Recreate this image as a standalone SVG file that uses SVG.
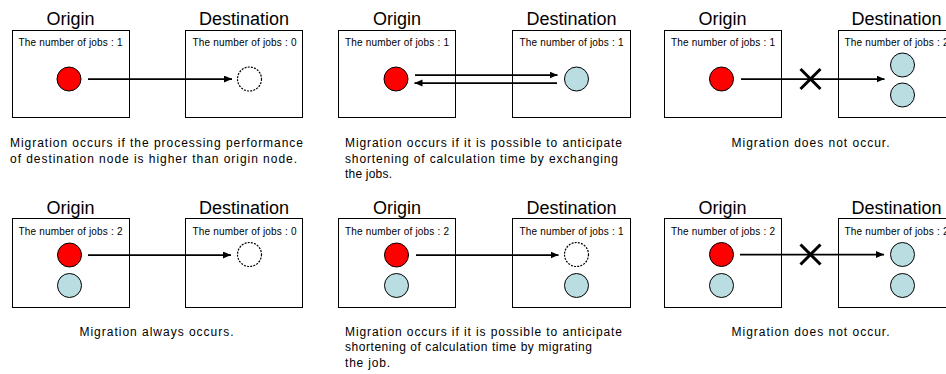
<svg xmlns="http://www.w3.org/2000/svg" width="946" height="374" viewBox="0 0 946 374">
<style>
text{font-family:"Liberation Sans",Arial,sans-serif;fill:#000}
.ttl{font-size:18px;text-anchor:middle}
.lbl{font-size:10px;text-anchor:middle}
.cap{font-size:12px}
.capc{font-size:12px;text-anchor:middle}
.box{fill:#fff;stroke:#000;stroke-width:1}
.red{fill:#ff0000;stroke:#000;stroke-width:1}
.cyan{fill:#b9dde0;stroke:#000;stroke-width:1}
.empty{fill:#fff;stroke:#000;stroke-width:1.2;stroke-dasharray:2 1.2}
.arr{stroke:#000;stroke-width:1.75;fill:none;marker-end:url(#ah)}
.x{stroke:#000;stroke-width:3;fill:none}
</style>
<defs>
<marker id="ah" markerUnits="userSpaceOnUse" markerWidth="9" markerHeight="8" refX="8" refY="3.5" orient="auto">
<path d="M0,0 L8,3.5 L0,7 z" fill="#000"/>
</marker>
</defs>

<rect width="946" height="374" fill="#fff"/>

<!-- Panel 1 -->
<g id="p1-origin">
<text class="ttl" x="70.5" y="25">Origin</text>
<rect class="box" x="12.5" y="30.5" width="117" height="87"/>
<text class="lbl" x="70.5" y="46" textLength="104">The number of jobs : 1</text>
<circle class="red" cx="69" cy="79" r="12"/>
</g>
<g id="p1-dest">
<text class="ttl" x="244" y="25">Destination</text>
<rect class="box" x="185.5" y="30.5" width="117" height="87"/>
<text class="lbl" x="244.5" y="46" textLength="104">The number of jobs : 0</text>
<circle class="empty" cx="249.5" cy="79" r="12"/>
</g>
<text class="cap" x="10" y="147" textLength="293">Migration occurs if the processing performance</text>
<text class="cap" x="10" y="163" textLength="287">of destination node is higher than origin node.</text>

<!-- Panel 2 -->
<g id="p2-origin">
<text class="ttl" x="397" y="25">Origin</text>
<rect class="box" x="338.5" y="30.5" width="117" height="87"/>
<text class="lbl" x="397" y="46" textLength="104">The number of jobs : 1</text>
<circle class="red" cx="396" cy="79" r="12"/>
</g>
<g id="p2-dest">
<text class="ttl" x="571.5" y="25">Destination</text>
<rect class="box" x="512.5" y="30.5" width="118" height="87"/>
<text class="lbl" x="571.5" y="46" textLength="104">The number of jobs : 1</text>
<circle class="cyan" cx="576.5" cy="79" r="12"/>
</g>
<text class="cap" x="345" y="147" textLength="277">Migration occurs if it is possible to anticipate</text>
<text class="cap" x="345" y="162.5" textLength="273">shortening of calculation time by exchanging</text>
<text class="cap" x="345" y="178" textLength="47">the jobs.</text>

<!-- Panel 3 -->
<g id="p3-origin">
<text class="ttl" x="722.5" y="25">Origin</text>
<rect class="box" x="664.5" y="30.5" width="117" height="87"/>
<text class="lbl" x="723" y="46" textLength="104">The number of jobs : 1</text>
<circle class="red" cx="721.5" cy="79" r="12"/>
</g>
<g id="p3-dest">
<text class="ttl" x="896.5" y="25">Destination</text>
<rect class="box" x="838.5" y="30.5" width="117" height="87"/>
<text class="lbl" x="896.5" y="46" textLength="104">The number of jobs : 2</text>
<circle class="cyan" cx="902.5" cy="65" r="12"/>
<circle class="cyan" cx="902.5" cy="95" r="12"/>
</g>
<text class="capc" x="810.5" y="147" textLength="158">Migration does not occur.</text>

<!-- Panel 4 -->
<g id="p4-origin">
<text class="ttl" x="70.5" y="213.5">Origin</text>
<rect class="box" x="12.5" y="218.5" width="117" height="89"/>
<text class="lbl" x="70.5" y="234.5" textLength="104">The number of jobs : 2</text>
<circle class="red" cx="69.5" cy="255" r="12"/>
<circle class="cyan" cx="69.5" cy="285.5" r="12"/>
</g>
<g id="p4-dest">
<text class="ttl" x="244" y="213.5">Destination</text>
<rect class="box" x="185.5" y="218.5" width="117" height="89"/>
<text class="lbl" x="244.5" y="234.5" textLength="104">The number of jobs : 0</text>
<circle class="empty" cx="249.5" cy="254.5" r="12"/>
</g>
<text class="capc" x="156.5" y="335.5" textLength="154">Migration always occurs.</text>

<!-- Panel 5 -->
<g id="p5-origin">
<text class="ttl" x="397" y="213.5">Origin</text>
<rect class="box" x="338.5" y="218.5" width="117" height="89"/>
<text class="lbl" x="397" y="234.5" textLength="104">The number of jobs : 2</text>
<circle class="red" cx="396.5" cy="255" r="12"/>
<circle class="cyan" cx="396.5" cy="285.5" r="12"/>
</g>
<g id="p5-dest">
<text class="ttl" x="571.5" y="213.5">Destination</text>
<rect class="box" x="512.5" y="218.5" width="118" height="89"/>
<text class="lbl" x="571.5" y="234.5" textLength="104">The number of jobs : 1</text>
<circle class="empty" cx="576.5" cy="254.5" r="12"/>
<circle class="cyan" cx="576.5" cy="285.5" r="12"/>
</g>
<text class="cap" x="345" y="335.5" textLength="277">Migration occurs if it is possible to anticipate</text>
<text class="cap" x="345" y="351" textLength="247">shortening of calculation time by migrating</text>
<text class="cap" x="345" y="366.5" textLength="45">the job.</text>

<!-- Panel 6 -->
<g id="p6-origin">
<text class="ttl" x="722.5" y="213.5">Origin</text>
<rect class="box" x="664.5" y="218.5" width="117" height="89"/>
<text class="lbl" x="723" y="234.5" textLength="104">The number of jobs : 2</text>
<circle class="red" cx="721.5" cy="254.5" r="12"/>
<circle class="cyan" cx="721.5" cy="285.5" r="12"/>
</g>
<g id="p6-dest">
<text class="ttl" x="896.5" y="213.5">Destination</text>
<rect class="box" x="838.5" y="218.5" width="117" height="89"/>
<text class="lbl" x="896.5" y="234.5" textLength="104">The number of jobs : 2</text>
<circle class="cyan" cx="902.5" cy="254.5" r="12"/>
<circle class="cyan" cx="902.5" cy="285.5" r="12"/>
</g>
<text class="capc" x="810.5" y="335.5" textLength="158">Migration does not occur.</text>

<!-- Connectors -->
<g id="connectors">
<line class="arr" x1="88" y1="79" x2="232" y2="79"/>
<line class="arr" x1="415" y1="75" x2="557.5" y2="75"/>
<line class="arr" x1="557" y1="83" x2="414.5" y2="83"/>
<line class="arr" x1="741" y1="79" x2="884.5" y2="79"/>
<line class="arr" x1="88" y1="255" x2="231" y2="255"/>
<line class="arr" x1="416" y1="255" x2="558.5" y2="255"/>
<line class="arr" x1="740" y1="254.5" x2="884" y2="254.5"/>
<path class="x" d="M800.5,69 L820.5,89 M820.5,69 L800.5,89"/>
<path class="x" d="M800.5,244.5 L820.5,264.5 M820.5,244.5 L800.5,264.5"/>
</g>
</svg>
